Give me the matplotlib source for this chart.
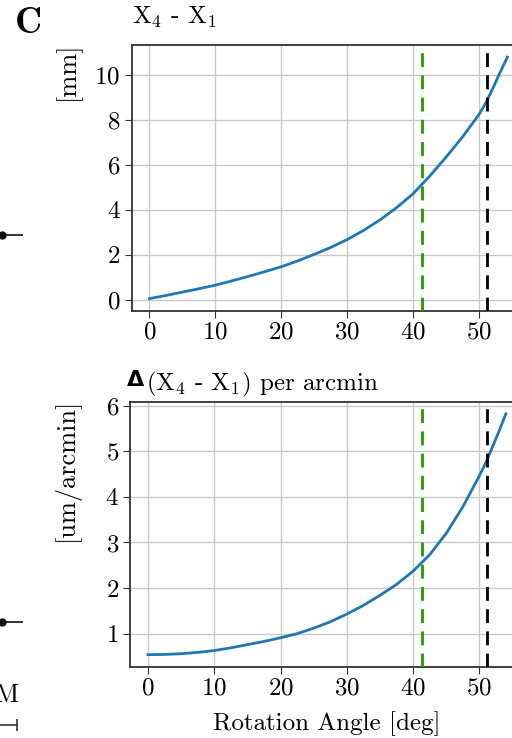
import matplotlib
matplotlib.use("Agg")
import matplotlib.pyplot as plt
import numpy as np

plt.rcParams["font.family"] = ["cmr10", "DejaVu Serif"]
plt.rcParams["mathtext.fontset"] = "cm"
plt.rcParams["axes.formatter.use_mathtext"] = True
plt.rcParams["axes.unicode_minus"] = False

# --- data ---
angle_top = [0, 2.5, 5, 7.5, 10, 12.5, 15, 17.5, 20, 22.5, 25, 27.5, 30, 32.5,
             35, 37.5, 40, 42.5, 45, 47.5, 50, 51, 52, 53, 54.3]
dx_mm = [0.05, 0.19, 0.34, 0.49, 0.65, 0.84, 1.04, 1.25, 1.47, 1.73, 2.02, 2.33,
         2.68, 3.09, 3.56, 4.10, 4.72, 5.50, 6.35, 7.25, 8.25, 8.75, 9.35, 10.0, 10.8]

angle_bot = [0, 2.5, 5, 7.5, 10, 12.5, 15, 17.5, 20, 22.5, 25, 27.5, 30, 32.5,
             35, 37.5, 40, 42.5, 45, 47.5, 50, 51, 52, 53, 54]
ddx_per_arcmin = [0.54, 0.545, 0.56, 0.59, 0.63, 0.69, 0.76, 0.83, 0.91, 1.00, 1.12,
                  1.26, 1.43, 1.62, 1.84, 2.08, 2.37, 2.73, 3.20, 3.78, 4.46, 4.76,
                  5.10, 5.45, 5.82]

green_angle = 41.4
black_angle = 51.2

# fragments of the neighbouring panel (cut off at the left edge)
side_pts_y = [0.681, 0.157]
side_pts_x = [0.06, 0.06]
side_pts_xerr = [0.83, 0.83]

LINE = "#1f77b4"
GREEN = "#229a00"
FS = 18

fig = plt.figure(figsize=(5.12, 7.38), dpi=100)
ax1 = fig.add_axes([0.257, 0.579, 0.769, 0.360])
ax2 = fig.add_axes([0.254, 0.0966, 0.769, 0.359])

panels = [
    (ax1, angle_top, dx_mm, "[mm]", [0, 2, 4, 6, 8, 10]),
    (ax2, angle_bot, ddx_per_arcmin, "[um/arcmin]", [1, 2, 3, 4, 5, 6]),
]

for ax, x, y, ylab, yt in panels:
    ax.plot(x, y, color=LINE, lw=2, zorder=3)
    ax.axvline(green_angle, color=GREEN, lw=2, dashes=(5, 3), zorder=4)
    ax.axvline(black_angle, color="k", lw=2, dashes=(5, 3), zorder=4)
    ax.set_xticks([0, 10, 20, 30, 40, 50])
    ax.set_yticks(yt)
    ax.grid(True, color="#c8c8c8", lw=1)
    ax.set_axisbelow(True)
    ax.tick_params(labelsize=FS, length=5, color="#333333", pad=3)
    for s in ax.spines.values():
        s.set_color("#333333")
        s.set_linewidth(1.3)
    ax.set_ylabel(ylab, fontsize=FS + 1, loc="top")
    ax.yaxis.set_label_coords(-0.128, 1.015)

ax1.set_title(r"X$_4$ - X$_1$", loc="left", fontsize=FS, pad=15)

# bottom title: bold sans Delta followed by the serif remainder
delta = ax2.annotate("Δ", xy=(0, 1), xycoords="axes fraction", xytext=(-2, 11),
                     textcoords="offset points", fontsize=16, fontweight="bold",
                     fontfamily="DejaVu Sans", ha="left", va="baseline")
ax2.annotate(r"(X$_4$ - X$_1$) per arcmin", xy=(1, 0), xycoords=delta,
             xytext=(1, 0), textcoords="offset points", fontsize=FS,
             ha="left", va="baseline")

ax2.set_xlabel("Rotation Angle [deg]", fontsize=FS, labelpad=8)

fig.text(0.03, 0.99, "C", fontsize=27, fontfamily="cmb10", va="top", ha="left")

# left-edge pieces of the adjacent panel
side = fig.add_axes([-0.05, 0.0, 0.1, 1.0])
side.set_xlim(-1, 1)
side.set_ylim(0, 1)
side.axis("off")
side.errorbar(side_pts_x, side_pts_y, xerr=side_pts_xerr, fmt="o", color="#111111",
              ms=5, elinewidth=1.2, capsize=0)
side.plot([-1, 0.66], [0.0176, 0.0176], color="#333333", lw=1.2)
side.plot([0.66], [0.0176], marker="|", ms=9, mew=1.2, color="#333333")
fig.text(0.035, 1 - 695 / 738, "M", fontsize=19, ha="right", va="center")

fig.savefig("out.png", dpi=100)
